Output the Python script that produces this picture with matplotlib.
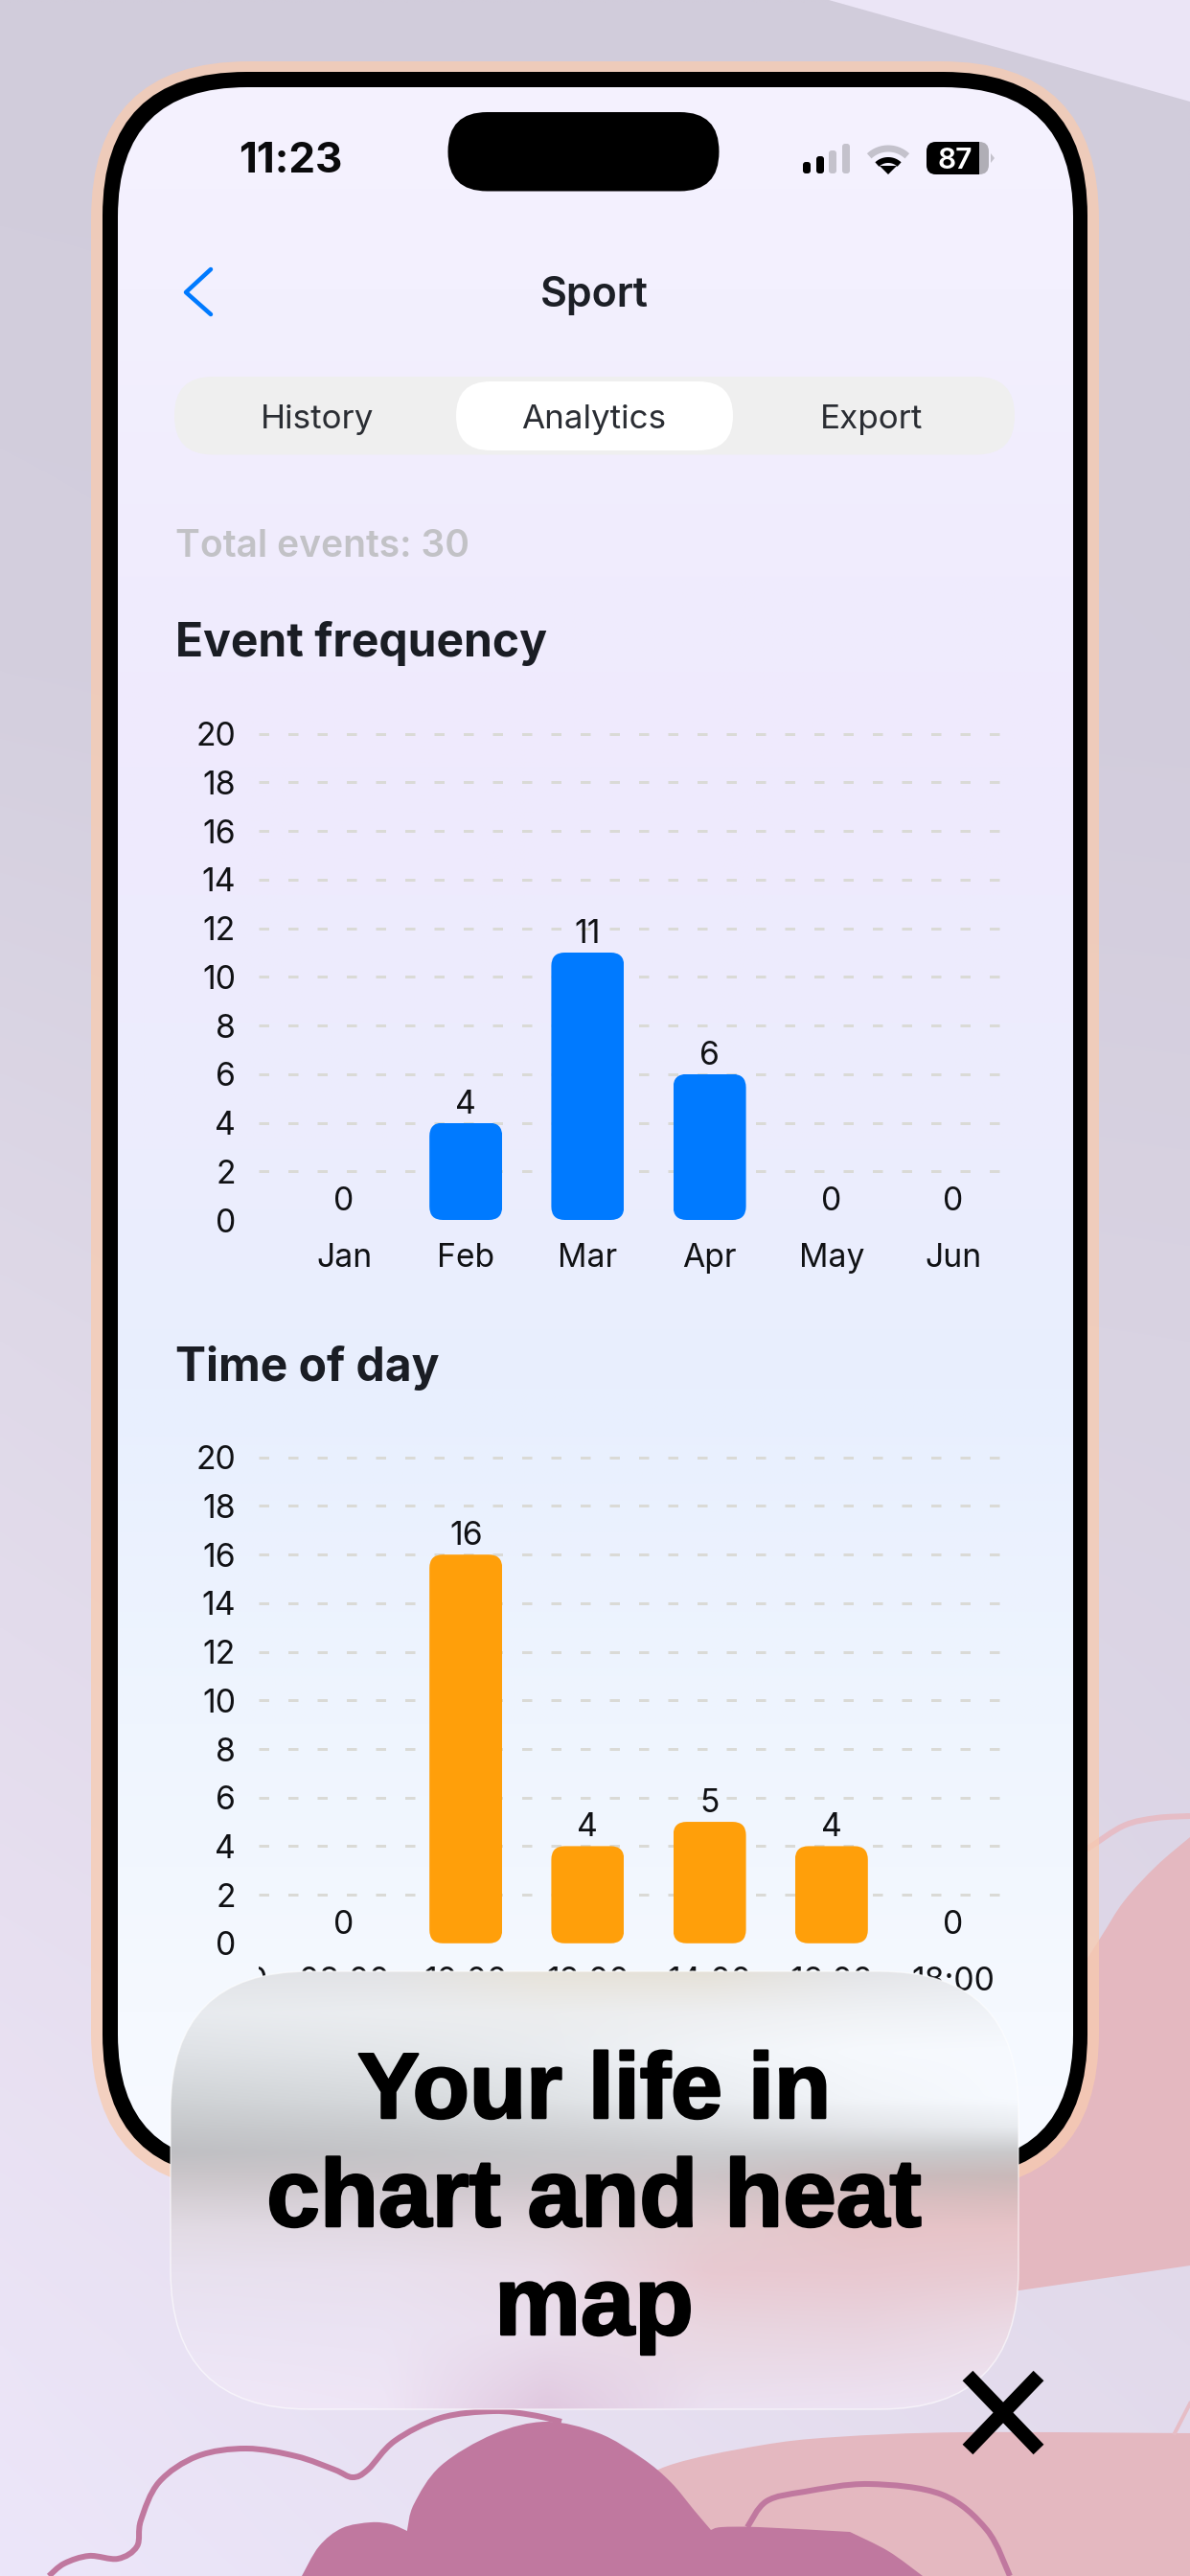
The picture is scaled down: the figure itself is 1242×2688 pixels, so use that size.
import numpy as np
import matplotlib
matplotlib.use("Agg")
import matplotlib.pyplot as plt
import matplotlib.patheffects as pe
from matplotlib.path import Path
from matplotlib.patches import PathPatch, FancyBboxPatch, Polygon
from matplotlib.colors import to_rgb
from matplotlib.transforms import Bbox

# ---- data -------------------------------------------------------------
months = ["Jan", "Feb", "Mar", "Apr", "May", "Jun"]
month_counts = [0, 4, 11, 6, 0, 0]
hours = ["08:00", "10:00", "12:00", "14:00", "16:00", "18:00"]
hour_counts = [0, 16, 4, 5, 4, 0]
y_ticks = [0, 2, 4, 6, 8, 10, 12, 14, 16, 18, 20]

W, H = 1242, 2688
PX = 0.72  # points per pixel at dpi 100
FONT = "Inter"
plt.rcParams["font.family"] = [FONT, "DejaVu Sans"]
plt.rcParams["lines.scale_dashes"] = False

fig = plt.figure(figsize=(W / 100, H / 100), dpi=100)


def full_axes(z):
    a = fig.add_axes([0, 0, 1, 1], zorder=z)
    a.set_xlim(0, W)
    a.set_ylim(H, 0)
    a.axis("off")
    a.patch.set_alpha(0)
    return a


def grad(xs, ys, colors, n=(300, 400), blur=0):
    c = np.array([[to_rgb(v) for v in row] for row in colors])
    gx = np.linspace(xs[0], xs[-1], n[0])
    gy = np.linspace(ys[0], ys[-1], n[1])
    tmp = np.stack([[np.interp(gx, xs, c[r, :, k]) for k in range(3)]
                    for r in range(len(ys))])  # rows, 3, nx
    out = np.zeros((n[1], n[0], 3))
    for k in range(3):
        for i in range(n[0]):
            out[:, i, k] = np.interp(gy, ys, tmp[:, k, i])
    if blur:
        ker = np.hanning(2 * blur + 1)
        ker /= ker.sum()
        for k in range(3):
            pad = np.pad(out[:, :, k], blur, mode="edge")
            pad = np.apply_along_axis(lambda v: np.convolve(v, ker, mode="same"), 0, pad)
            pad = np.apply_along_axis(lambda v: np.convolve(v, ker, mode="same"), 1, pad)
            out[:, :, k] = pad[blur:-blur, blur:-blur]
    return out


def show(a, img, xs, ys, z):
    im = a.imshow(img, extent=(xs[0], xs[-1], ys[-1], ys[0]), aspect="auto",
                  interpolation="bilinear", zorder=z)
    a.set_xlim(0, W)
    a.set_ylim(H, 0)
    return im


def rbox(x0, y0, x1, y1, r, **kw):
    return FancyBboxPatch((x0, y0), x1 - x0, y1 - y0,
                          boxstyle=f"round,pad=0,rounding_size={r}", **kw)


def smooth_path(pts):
    p = np.array(pts, float)
    verts = [p[0]]
    codes = [Path.MOVETO]
    for i in range(len(p) - 1):
        p0 = p[i - 1] if i > 0 else p[i]
        p3 = p[i + 2] if i + 2 < len(p) else p[i + 1]
        c1 = p[i] + (p[i + 1] - p0) / 6
        c2 = p[i + 1] - (p3 - p[i]) / 6
        verts += [c1, c2, p[i + 1]]
        codes += [Path.CURVE4] * 3
    return verts, codes


def shape(segments, **kw):
    verts, codes = [], []
    for k, s in enumerate(segments):
        v, c = smooth_path(s)
        if k > 0:
            c[0] = Path.LINETO
        verts += v
        codes += c
    verts.append(verts[0])
    codes.append(Path.CLOSEPOLY)
    return PathPatch(Path(verts, codes), **kw)


def curve(a, pts, color, lw, z=3):
    v, c = smooth_path(pts)
    a.add_patch(PathPatch(Path(v, c), fill=False, edgecolor=color,
                          lw=lw * PX, capstyle="butt", zorder=z))


def label(a, x, y, s, px, weight="normal", color="black", ha="left", z=20, family=None):
    kw = {"family": family} if family else {}
    return a.text(x, y, s, fontsize=px * PX, fontweight=weight, color=color,
                  ha=ha, va="baseline", zorder=z, **kw)


bg = full_axes(0)

# ---- background -------------------------------------------------------
bx = [0, 620, 1242]
by = [0, 700, 1400, 2000, 2450, 2688]
show(bg, grad(bx, by, [["#d1ccdb", "#d1ccdb", "#d1ccdb"],
                       ["#d4cfde", "#d2cddd", "#d2ccdc"],
                       ["#dfd9e8", "#dad4e3", "#d9d3e2"],
                       ["#e7dff0", "#e2dbeb", "#ddd6e7"],
                       ["#ebe4f6", "#e6dff0", "#e2daeb"],
                       ["#ece6fa", "#e8e1f3", "#e4dcee"]]), bx, by, 0)
bg.add_patch(Polygon([(865, 0), (1242, 0), (1242, 106)], closed=True,
                     facecolor="#ebe5f6", edgecolor="none", zorder=1))

PINK = "#e4b8c0"
MAUVE = "#c0789f"
bg.add_patch(shape([[(1000, 2230), (1085, 2120), (1146, 2026), (1173, 1984), (1207, 1947), (1242, 1917)],
                    [(1242, 1917), (1242, 2364)],
                    [(1242, 2364), (1064, 2390), (1000, 2398)]],
                   facecolor=PINK, edgecolor="none", zorder=2))
curve(bg, [(1100, 1950), (1135, 1929), (1173, 1905), (1207, 1897), (1242, 1895)], "#e6bdc6", 6)
bg.add_patch(shape([[(640, 2605), (697, 2573), (792, 2552), (872, 2543), (1006, 2538), (1242, 2539)],
                    [(1242, 2539), (1242, 2688)],
                    [(1242, 2688), (640, 2688)]],
                   facecolor=PINK, edgecolor="none", zorder=2))
bg.plot([1226, 1242], [2539, 2508], color="#e6bdc6", lw=4 * PX, zorder=2)
curve(bg, [(51, 2688), (67, 2675), (93, 2667), (123, 2670), (143, 2657), (147, 2630),
           (166, 2590), (206, 2563), (257, 2555), (309, 2563), (349, 2577), (368, 2585),
           (384, 2577), (412, 2547), (460, 2523), (515, 2516), (555, 2520), (586, 2527)], MAUVE, 6)
curve(bg, [(780, 2637), (800, 2610), (840, 2600), (907, 2592), (983, 2603), (1030, 2640), (1054, 2688)], MAUVE, 6)
bg.add_patch(shape([[(315, 2688), (333, 2657), (357, 2638), (387, 2632), (408, 2634), (425, 2641)],
                    [(425, 2640), (432, 2613), (460, 2573), (515, 2540), (570, 2527), (625, 2539),
                     (670, 2565), (700, 2590), (725, 2620), (742, 2640)],
                    [(742, 2640), (753, 2637), (792, 2637), (887, 2642)],
                    [(887, 2642), (927, 2662), (963, 2688)]],
                   facecolor=MAUVE, edgecolor="none", zorder=4))

# ---- phone ------------------------------------------------------------
bg.add_patch(rbox(95, 64, 1147, 2286, 165, facecolor="#f8cbb0", alpha=0.75,
                  edgecolor="none", zorder=5))
bg.add_patch(rbox(107, 75, 1135, 2273, 150, facecolor="black", edgecolor="none", zorder=6))
screen = rbox(123, 91, 1120, 2258, 135, facecolor="none", edgecolor="none", zorder=7)
bg.add_patch(screen)
sx = [123, 1120]
sy = [91, 300, 600, 800, 1200, 1450, 1800, 2100, 2258]
scols = ["#f5f2ff", "#f3f0fe", "#f0ecfd", "#efeafd", "#ecedfd", "#e8effe", "#eff5fe", "#f5f9ff", "#f7faff"]
im = show(bg, grad(sx, sy, [[c, c] for c in scols], n=(4, 500)), sx, sy, 7)
im.set_clip_path(screen)

bg.add_patch(rbox(467.5, 117, 750.5, 199.5, 41, facecolor="black", edgecolor="none", zorder=8))
label(bg, 249, 180, "11:23", 44, "bold", "#0a0a0c")

# status bar glyphs
for x0, y0, col in [(838, 169, "#000000"), (852, 163, "#000000"),
                    (865, 157, "#c4c2cc"), (879, 150, "#c4c2cc")]:
    bg.add_patch(rbox(x0, y0, x0 + 8, 181, 3, facecolor=col, edgecolor="none", zorder=9))
for r, col, lw, half in [(29, "#c4c2cc", 7, 43), (17, "#000000", 6, 43)]:
    t = np.radians(np.linspace(90 - half, 90 + half, 30))
    bg.plot(927 + r * np.cos(t), 184 - r * np.sin(t), color=col, lw=lw * PX,
            solid_capstyle="butt", zorder=9)
bg.add_patch(Polygon([(918, 173), (936, 173), (927, 182)], closed=True,
                     facecolor="black", edgecolor="none", zorder=9))
batt = rbox(967, 148, 1032, 182, 10, facecolor="#b0aeb6", edgecolor="none", zorder=9)
bg.add_patch(batt)
fill = bg.add_patch(Polygon([(967, 148), (1022, 148), (1022, 182), (967, 182)], closed=True,
                            facecolor="black", edgecolor="none", zorder=10))
fill.set_clip_path(batt)
bg.add_patch(Polygon([(1034, 160), (1038, 165), (1034, 170)], closed=True,
                     facecolor="#c4c2cc", edgecolor="none", zorder=9))
label(bg, 997, 176, "87", 30, "semibold", "white", ha="center")

# navigation
bg.plot([220, 194, 220], [281, 305, 328], color="#007AFF", lw=4.5 * PX,
        solid_capstyle="round", solid_joinstyle="round", zorder=9)
label(bg, 620, 320, "Sport", 43, "semibold", "#1c1f26", ha="center")

bg.add_patch(rbox(182, 393, 1059, 474.5, 40, facecolor="#efefef", edgecolor="none", zorder=9))
bg.add_patch(rbox(476, 398, 765, 470, 36, facecolor="white", edgecolor="none", zorder=10))
label(bg, 331, 447, "History", 35, "normal", "#2a2d33", ha="center")
label(bg, 620, 447, "Analytics", 35, "normal", "#2a2d33", ha="center")
label(bg, 910, 447, "Export", 35, "normal", "#2a2d33", ha="center")

label(bg, 183, 581, "Total events: 30", 39, "semibold", "#c2c2c6")
label(bg, 183, 685, "Event frequency", 48, "bold", "#1a1d24")
label(bg, 183, 1441, "Time of day", 48, "bold", "#1a1d24")


# ---- charts -----------------------------------------------------------
def chart(top, bottom, cats, vals, color):
    left, right = 270, 1044
    a = fig.add_axes([left / W, 1 - bottom / H, (right - left) / W, (bottom - top) / H], zorder=1)
    a.patch.set_alpha(0)
    unit = 127.2
    a.set_xlim((left - 359) / unit, (right - 359) / unit)
    a.set_ylim(0, 20)
    for s in a.spines.values():
        s.set_visible(False)
    a.set_yticks(y_ticks)
    a.set_yticklabels([str(v) for v in y_ticks])
    a.set_xticks(range(len(cats)))
    a.set_xticklabels(cats)
    for lab in a.get_xticklabels():
        lab.set_verticalalignment("baseline")
    a.tick_params(axis="y", length=0, pad=24 * PX, labelsize=33.7 * PX, labelcolor="#101114")
    a.tick_params(axis="x", length=0, pad=49 * PX, labelsize=33.7 * PX, labelcolor="#101114")
    a.set_axisbelow(True)
    a.grid(axis="y", color="#dadad6", lw=3 * PX, linestyle=(0, (10.5 * PX, 20 * PX)))
    a.yaxis.get_gridlines()[0].set_visible(False)
    # top line sits on the axes edge: let it draw in full
    a.yaxis.get_gridlines()[-1].set_clip_on(False)
    a.xaxis.grid(False)
    yunit = (bottom - top) / 20
    bars = a.bar(range(len(cats)), vals, width=76 / unit, color=color, zorder=2)
    for rect in bars:
        if rect.get_height() > 0:
            clip = FancyBboxPatch((rect.get_x(), 0), rect.get_width(), rect.get_height(),
                                  boxstyle=f"round,pad=0,rounding_size={14 / unit}",
                                  mutation_aspect=unit / yunit, transform=a.transData)
            rect.set_clip_path(clip)
    for i, v in enumerate(vals):
        a.annotate(str(v), (i, v), xytext=(0, 10 * PX), textcoords="offset points",
                   ha="center", va="baseline", fontsize=33.7 * PX, color="#101114", zorder=5)
    return a


ax1 = chart(765.7, 1273, months, month_counts, "#007AFF")
ax2 = chart(1520.8, 2027.8, hours, hour_counts, "#FF9F0A")
hidden = ax2.annotate("06:00", (-1, 0), xytext=(0, -49 * PX), textcoords="offset points",
                      ha="center", va="baseline", fontsize=33.7 * PX, color="#101114",
                      annotation_clip=False)
hidden.set_clip_box(Bbox([[270, 0], [W, H]]))
hidden.set_clip_on(True)

# ---- caption panel ----------------------------------------------------
top = full_axes(2)
px_ = [178, 400, 570, 740, 900, 1063]
py_ = [2057, 2100, 2140, 2190, 2220, 2245, 2270, 2295, 2325, 2370, 2430, 2514]
pcols = [
    ["#e2e4e8", "#e2e3e6", "#e7e3da", "#e5e1d8", "#e4e5e8", "#e8eaee"],
    ["#e8ebef", "#ebedf0", "#ecedee", "#eeeff1", "#f0f2f5", "#f0f3f8"],
    ["#dfe2e6", "#e4e7ea", "#e9ecf0", "#f1f4f8", "#f6f9fd", "#f7faff"],
    ["#d0d3d6", "#d6d9dc", "#dfe2e5", "#e9ecf0", "#f2f5f9", "#f7faff"],
    ["#c6c8cb", "#cacccf", "#d1d3d6", "#d9dbde", "#e2e4e8", "#e8ebef"],
    ["#bfbfc3", "#c4c4c7", "#c9c9cc", "#cccccf", "#cbcbcd", "#c9c9cb"],
    ["#cbc6ca", "#cac5c9", "#cbc6ca", "#ccc4c7", "#c9bbbd", "#c9b9b9"],
    ["#d6d0d6", "#d5ced5", "#d6cbd1", "#d6c7cb", "#d8bfc1", "#d9bcbe"],
    ["#e2dbe4", "#e2d9e3", "#e2d5dc", "#e3ccd1", "#e6c4c8", "#e8c4c8"],
    ["#e8e1ef", "#e9e0ee", "#e9dce8", "#e8c9d1", "#e8c8d0", "#e9cbd2"],
    ["#ebe4f4", "#ebe3f3", "#eadeed", "#e9d6e0", "#e9d4df", "#ebdae5"],
    ["#f0e8f8", "#efe6f6", "#e0c8df", "#ebe1f1", "#ede3f3", "#eee6f5"],
]
panel = rbox(178, 2057, 1063, 2514, 145, facecolor="none", edgecolor="none", zorder=1)
top.add_patch(panel)
pim = show(top, grad(px_, py_, pcols, n=(400, 400), blur=6), px_, py_, 1)
pim.set_clip_path(panel)
top.add_patch(rbox(178, 2057, 1063, 2514, 145, facecolor="none",
                   edgecolor=(1, 1, 1, 0.6), lw=1.5 * PX, zorder=2))

for base, line, size in zip([2210, 2323, 2436],
                            ["Your life in", "chart and heat", "map"],
                            [97, 100, 101]):
    t_ = label(top, 620, base, line, size, "bold", "black", ha="center", z=5, family="Liberation Sans")
    t_.set_path_effects([pe.withStroke(linewidth=2.5 * PX, foreground="black")])

for xs_, ys_ in [((1010, 1084), (2479, 2556)), ((1084, 1010), (2479, 2556))]:
    top.plot(xs_, ys_, color="black", lw=15 * PX, solid_capstyle="butt", zorder=5)

fig.savefig("out.png", dpi=100)
